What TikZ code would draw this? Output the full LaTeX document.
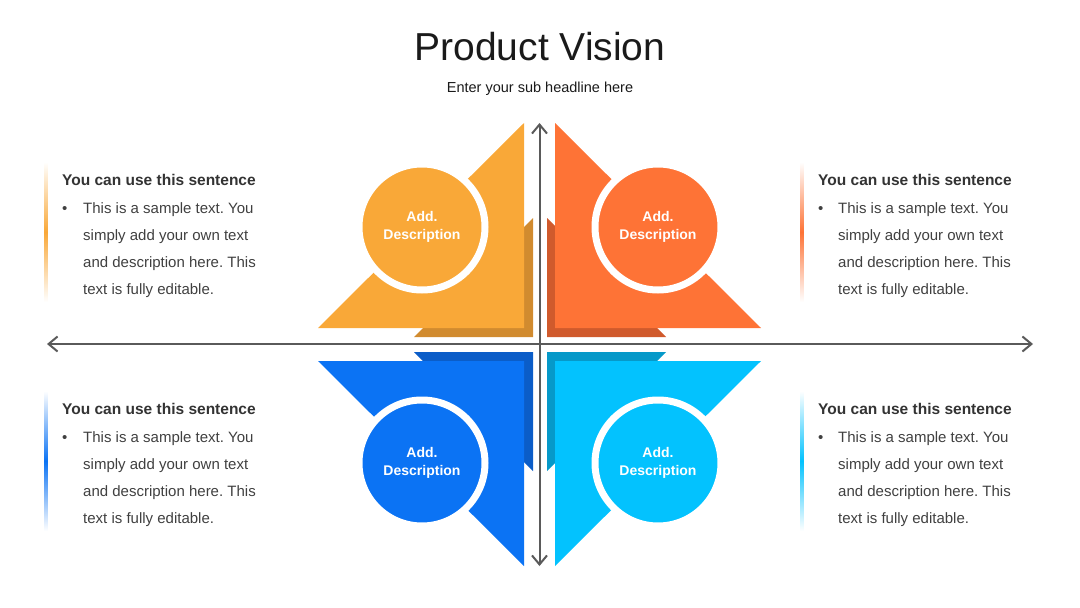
\documentclass[tikz,border=0pt]{standalone}
\usepackage{fontspec}
\setmainfont{Liberation Sans}
\usepackage{tikz}
\usetikzlibrary{arrows.meta}
\frenchspacing

\definecolor{orangeA}{HTML}{F9A838}
\definecolor{orangeD}{HTML}{D18B2F}
\definecolor{redA}{HTML}{FE7336}
\definecolor{redD}{HTML}{D05A2C}
\definecolor{blueA}{HTML}{0B73F4}
\definecolor{blueD}{HTML}{0B5DC8}
\definecolor{cyanA}{HTML}{03C2FE}
\definecolor{cyanD}{HTML}{0699C9}
\definecolor{axisgray}{HTML}{5A5A5A}
\definecolor{inkdark}{HTML}{1A1A1A}
\definecolor{inkhead}{HTML}{333333}
\definecolor{inkbody}{HTML}{404040}

\begin{document}
\begin{tikzpicture}[
        x=1pt, y=-1pt,
        title/.style={anchor=center, inner sep=0pt, text=inkdark, font=\fontsize{39}{45}\selectfont},
        subtitle/.style={anchor=center, inner sep=0pt, text=inkdark, font=\fontsize{14.5}{18}\selectfont},
        bubble/.style={circle, minimum size=126pt, inner sep=0pt, draw=white, line width=7pt, text=white, align=center, font=\fontsize{14}{18}\selectfont\bfseries},
        heading/.style={anchor=base west, inner sep=0pt, text=inkhead, font=\fontsize{15.5}{20}\selectfont\bfseries},
        bullet/.style={anchor=base west, inner sep=0pt, text=inkbody, font=\fontsize{15}{27}\selectfont},
        bodytext/.style={anchor=base west, inner sep=0pt, text=inkbody, align=left, font=\fontsize{15}{27}\selectfont},
        axis/.style={{Straight Barb[length=9pt,width=15pt]}-{Straight Barb[length=9pt,width=15pt]}, line width=2pt, draw=axisgray}
        ]
        \useasboundingbox (0,0) rectangle (1080,608);

        % Title
        \node[title] (head) at (540,47) {Product Vision};
        \node[subtitle] (sub) at (540,89) {Enter your sub headline here};

        % Quadrant shapes (shadow first, then main triangle)
        \fill[orangeD] (533,218) -- (533,337) -- (414,337) -- cycle;
        \fill[orangeA] (524,123) -- (524,328) -- (318,328) -- cycle;
        \fill[redD] (547,218) -- (547,337) -- (666,337) -- cycle;
        \fill[redA] (555,123) -- (555,328) -- (761,328) -- cycle;
        \fill[blueD] (533,352) -- (414,352) -- (533,471) -- cycle;
        \fill[blueA] (524,361) -- (318,361) -- (524,566) -- cycle;
        \fill[cyanD] (547,352) -- (666,352) -- (547,471) -- cycle;
        \fill[cyanA] (555,361) -- (761,361) -- (555,566) -- cycle;

        % Axes
        \coordinate (xleft) at (47,344);
        \coordinate (xright) at (1033,344);
        \coordinate (ytop) at (539.5,123);
        \coordinate (ybottom) at (539.5,566);
        \draw[axis] (xleft) -- (xright);
        \draw[axis] (ytop) -- (ybottom);

        % Circles
        \node[bubble, fill=orangeA] (addTL) at (422,227) {Add.\\Description};
        \node[bubble, fill=redA] (addTR) at (658,227) {Add.\\Description};
        \node[bubble, fill=blueA] (addBL) at (422,463) {Add.\\Description};
        \node[bubble, fill=cyanA] (addBR) at (658,463) {Add.\\Description};

        % Side bars
        \shade[top color=white, bottom color=white, middle color=orangeA] (44.5,162) rectangle (47.5,302);
        \shade[top color=white, bottom color=white, middle color=redA] (800.5,162) rectangle (803.5,302);
        \shade[top color=white, bottom color=white, middle color=blueA] (44.5,391) rectangle (47.5,531);
        \shade[top color=white, bottom color=white, middle color=cyanA] (800.5,391) rectangle (803.5,531);

        % Text blocks (body anchored at the baseline of its last line)
        \node[heading] (headTL) at (62,185) {You can use this sentence};
        \node[bullet] (dotTL) at (62,213) {•};
        \node[bodytext] (textTL) at (83,294) {This is a sample text. You\\simply add your own text\\and description here. This\\text is fully editable.};

        \node[heading] (headTR) at (818,185) {You can use this sentence};
        \node[bullet] (dotTR) at (818,213) {•};
        \node[bodytext] (textTR) at (838,294) {This is a sample text. You\\simply add your own text\\and description here. This\\text is fully editable.};

        \node[heading] (headBL) at (62,414) {You can use this sentence};
        \node[bullet] (dotBL) at (62,442) {•};
        \node[bodytext] (textBL) at (83,523) {This is a sample text. You\\simply add your own text\\and description here. This\\text is fully editable.};

        \node[heading] (headBR) at (818,414) {You can use this sentence};
        \node[bullet] (dotBR) at (818,442) {•};
        \node[bodytext] (textBR) at (838,523) {This is a sample text. You\\simply add your own text\\and description here. This\\text is fully editable.};
\end{tikzpicture}
\end{document}
